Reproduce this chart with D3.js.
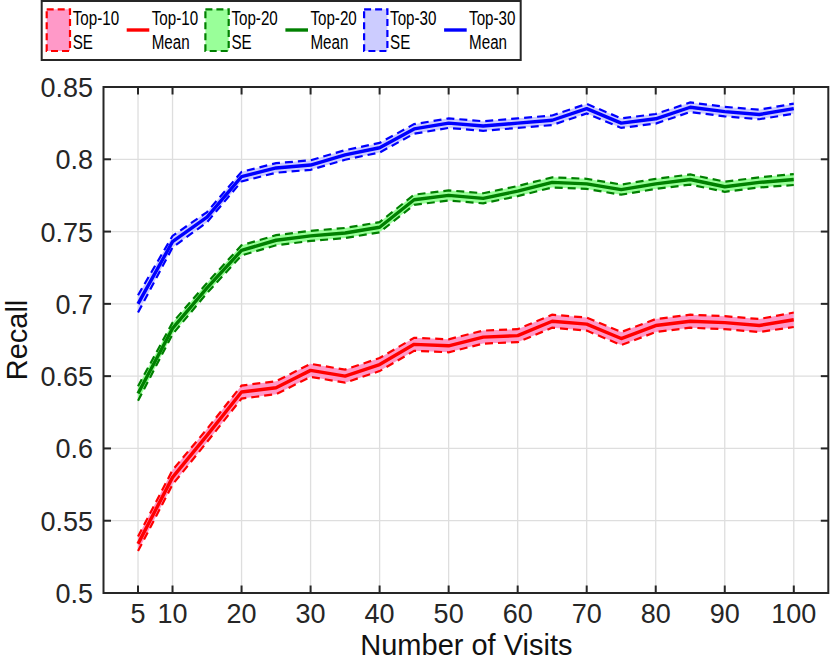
<!DOCTYPE html>
<html>
<head>
<meta charset="utf-8">
<script src="https://cdn.jsdelivr.net/npm/d3@7"></script>
<style>
  html, body { margin: 0; padding: 0; background: #fff; }
  svg { display: block; font-family: "Liberation Sans", Arial, Helvetica, sans-serif; }
</style>
</head>
<body>
<svg id="chart" width="830" height="661"></svg>
<script>
// ---------------- data ----------------
const visits = [5, 10, 15, 20, 25, 30, 35, 40, 45, 50, 55, 60, 65, 70, 75, 80, 85, 90, 95, 100];

const top10Mean = [0.534, 0.580, 0.609, 0.639, 0.642, 0.654, 0.650, 0.658, 0.672, 0.671,
                   0.677, 0.678, 0.688, 0.686, 0.676, 0.685, 0.688, 0.687, 0.685, 0.689];
const top10SE   = [0.005, 0.005, 0.0045, 0.0045, 0.0045, 0.0045, 0.0045, 0.0045, 0.0045, 0.0045,
                   0.0045, 0.0045, 0.0045, 0.0045, 0.0045, 0.0045, 0.0045, 0.0045, 0.0045, 0.005];

const top20Mean = [0.638, 0.683, 0.711, 0.737, 0.744, 0.747, 0.749, 0.753, 0.772, 0.775,
                   0.773, 0.778, 0.784, 0.783, 0.779, 0.783, 0.786, 0.781, 0.784, 0.786];
const top20SE   = [0.005, 0.004, 0.0035, 0.0035, 0.0035, 0.0035, 0.0035, 0.0035, 0.0035, 0.0035,
                   0.0035, 0.0035, 0.0035, 0.0035, 0.0035, 0.0035, 0.0035, 0.0035, 0.0035, 0.0038];

const top30Mean = [0.700, 0.743, 0.760, 0.788, 0.794, 0.796, 0.803, 0.808, 0.821, 0.825,
                   0.823, 0.825, 0.827, 0.835, 0.825, 0.828, 0.836, 0.833, 0.831, 0.835];
const top30SE   = [0.006, 0.004, 0.0035, 0.0033, 0.0033, 0.0033, 0.0033, 0.0033, 0.0033, 0.0033,
                   0.0033, 0.0033, 0.0033, 0.0033, 0.0033, 0.0033, 0.0033, 0.0033, 0.0033, 0.0035];

const seriesNames = ["Top-10", "Top-20", "Top-30"];
const lineColors  = ["#ff0000", "#008000", "#0000ff"];
const fillColors  = ["#ff99c8", "#99ff99", "#ccccff"];

const xTicks = [5, 10, 20, 30, 40, 50, 60, 70, 80, 90, 100];
const yTicks = [0.5, 0.55, 0.6, 0.65, 0.7, 0.75, 0.8, 0.85];
const yTickLabels = ["0.5", "0.55", "0.6", "0.65", "0.7", "0.75", "0.8", "0.85"];

const xLabel = "Number of Visits";
const yLabel = "Recall";

// ---------------- layout ----------------
const W = 830, H = 661;
const L = 103.5, R = 828.3, T = 87, B = 593;
const axisColor = "#262626";
const tickFont = 27, labelFont = 29;

const svg = d3.select("#chart");

const x = d3.scaleLinear().domain([0, 105]).range([L, R]);
const y = d3.scaleLinear().domain([0.5, 0.85]).range([B, T]);

// grid
const grid = svg.append("g");
grid.selectAll("line.gx").data(xTicks).enter().append("line")
  .attr("x1", d => x(d)).attr("x2", d => x(d)).attr("y1", T).attr("y2", B)
  .attr("stroke", "#dedede").attr("stroke-width", 1.3);
grid.selectAll("line.gy").data(yTicks).enter().append("line")
  .attr("x1", L).attr("x2", R).attr("y1", d => y(d)).attr("y2", d => y(d))
  .attr("stroke", "#dedede").attr("stroke-width", 1.3);

// series
const seriesData = [
  { mean: top10Mean, se: top10SE },
  { mean: top20Mean, se: top20SE },
  { mean: top30Mean, se: top30SE }
];

const area = d3.area()
  .x(d => x(d.v)).y0(d => y(d.m - d.s)).y1(d => y(d.m + d.s));
const lineMean = d3.line().x(d => x(d.v)).y(d => y(d.m));
const lineUp = d3.line().x(d => x(d.v)).y(d => y(d.m + d.s));
const lineLo = d3.line().x(d => x(d.v)).y(d => y(d.m - d.s));

const plot = svg.append("g");
seriesData.forEach((s, i) => {
  const pts = visits.map((v, j) => ({ v: v, m: s.mean[j], s: s.se[j] }));
  plot.append("path").attr("d", area(pts)).attr("fill", fillColors[i]).attr("stroke", "none");
  plot.append("path").attr("d", lineUp(pts)).attr("fill", "none")
    .attr("stroke", lineColors[i]).attr("stroke-width", 2.2).attr("stroke-dasharray", "8,5");
  plot.append("path").attr("d", lineLo(pts)).attr("fill", "none")
    .attr("stroke", lineColors[i]).attr("stroke-width", 2.2).attr("stroke-dasharray", "8,5");
  plot.append("path").attr("d", lineMean(pts)).attr("fill", "none")
    .attr("stroke", lineColors[i]).attr("stroke-width", 3.4).attr("stroke-linejoin", "round");
});

// axes box
const ax = svg.append("g");
ax.append("rect").attr("x", L).attr("y", T).attr("width", R - L).attr("height", B - T)
  .attr("fill", "none").attr("stroke", axisColor).attr("stroke-width", 2);

const tl = 7.5;
// x ticks (bottom + top, inward)
xTicks.forEach(t => {
  ax.append("line").attr("x1", x(t)).attr("x2", x(t)).attr("y1", B).attr("y2", B - tl)
    .attr("stroke", axisColor).attr("stroke-width", 2);
  ax.append("line").attr("x1", x(t)).attr("x2", x(t)).attr("y1", T).attr("y2", T + tl)
    .attr("stroke", axisColor).attr("stroke-width", 2);
  ax.append("text").attr("x", x(t)).attr("y", B + 30).attr("text-anchor", "middle")
    .attr("font-size", tickFont).attr("fill", axisColor).text(String(t));
});
// y ticks (left + right, inward)
yTicks.forEach((t, k) => {
  ax.append("line").attr("x1", L).attr("x2", L + tl).attr("y1", y(t)).attr("y2", y(t))
    .attr("stroke", axisColor).attr("stroke-width", 2);
  ax.append("line").attr("x1", R).attr("x2", R - tl).attr("y1", y(t)).attr("y2", y(t))
    .attr("stroke", axisColor).attr("stroke-width", 2);
  ax.append("text").attr("x", L - 10.5).attr("y", y(t) + 10).attr("text-anchor", "end")
    .attr("font-size", tickFont).attr("fill", axisColor).text(yTickLabels[k]);
});

// axis labels
svg.append("text").attr("x", (L + R) / 2 + 0.5).attr("y", 654.5).attr("text-anchor", "middle")
  .attr("font-size", labelFont).attr("fill", "#111").text(xLabel);
svg.append("text").attr("transform", `translate(27,${(T + B) / 2}) rotate(-90)`)
  .attr("text-anchor", "middle").attr("font-size", labelFont).attr("fill", "#111").text(yLabel);

// ---------------- legend ----------------
const lg = svg.append("g");
lg.append("rect").attr("x", 41.7).attr("y", 1).attr("width", 479).attr("height", 59)
  .attr("fill", "#fff").attr("stroke", axisColor).attr("stroke-width", 2);

const step = 158.7;
const legFont = 20.8, legScale = 0.73;
function legText(xp, lines) {
  lines.forEach((ln, k) => {
    lg.append("text")
      .attr("transform", `translate(${xp},${25 + k * 23.5}) scale(${legScale},1)`)
      .attr("font-size", legFont).attr("fill", "#000").text(ln);
  });
}
seriesNames.forEach((nm, i) => {
  const ox = i * step;
  lg.append("rect").attr("x", 46.7 + ox).attr("y", 9.3).attr("width", 23.3).attr("height", 41.7)
    .attr("fill", fillColors[i]).attr("stroke", lineColors[i]).attr("stroke-width", 2.2)
    .attr("stroke-dasharray", "7,4");
  legText(72.7 + ox, [nm, "SE"]);
  lg.append("line").attr("x1", 126.7 + ox).attr("x2", 149.3 + ox).attr("y1", 30).attr("y2", 30)
    .attr("stroke", lineColors[i]).attr("stroke-width", 3.4);
  legText(151.7 + ox, [nm, "Mean"]);
});
</script>
</body>
</html>
